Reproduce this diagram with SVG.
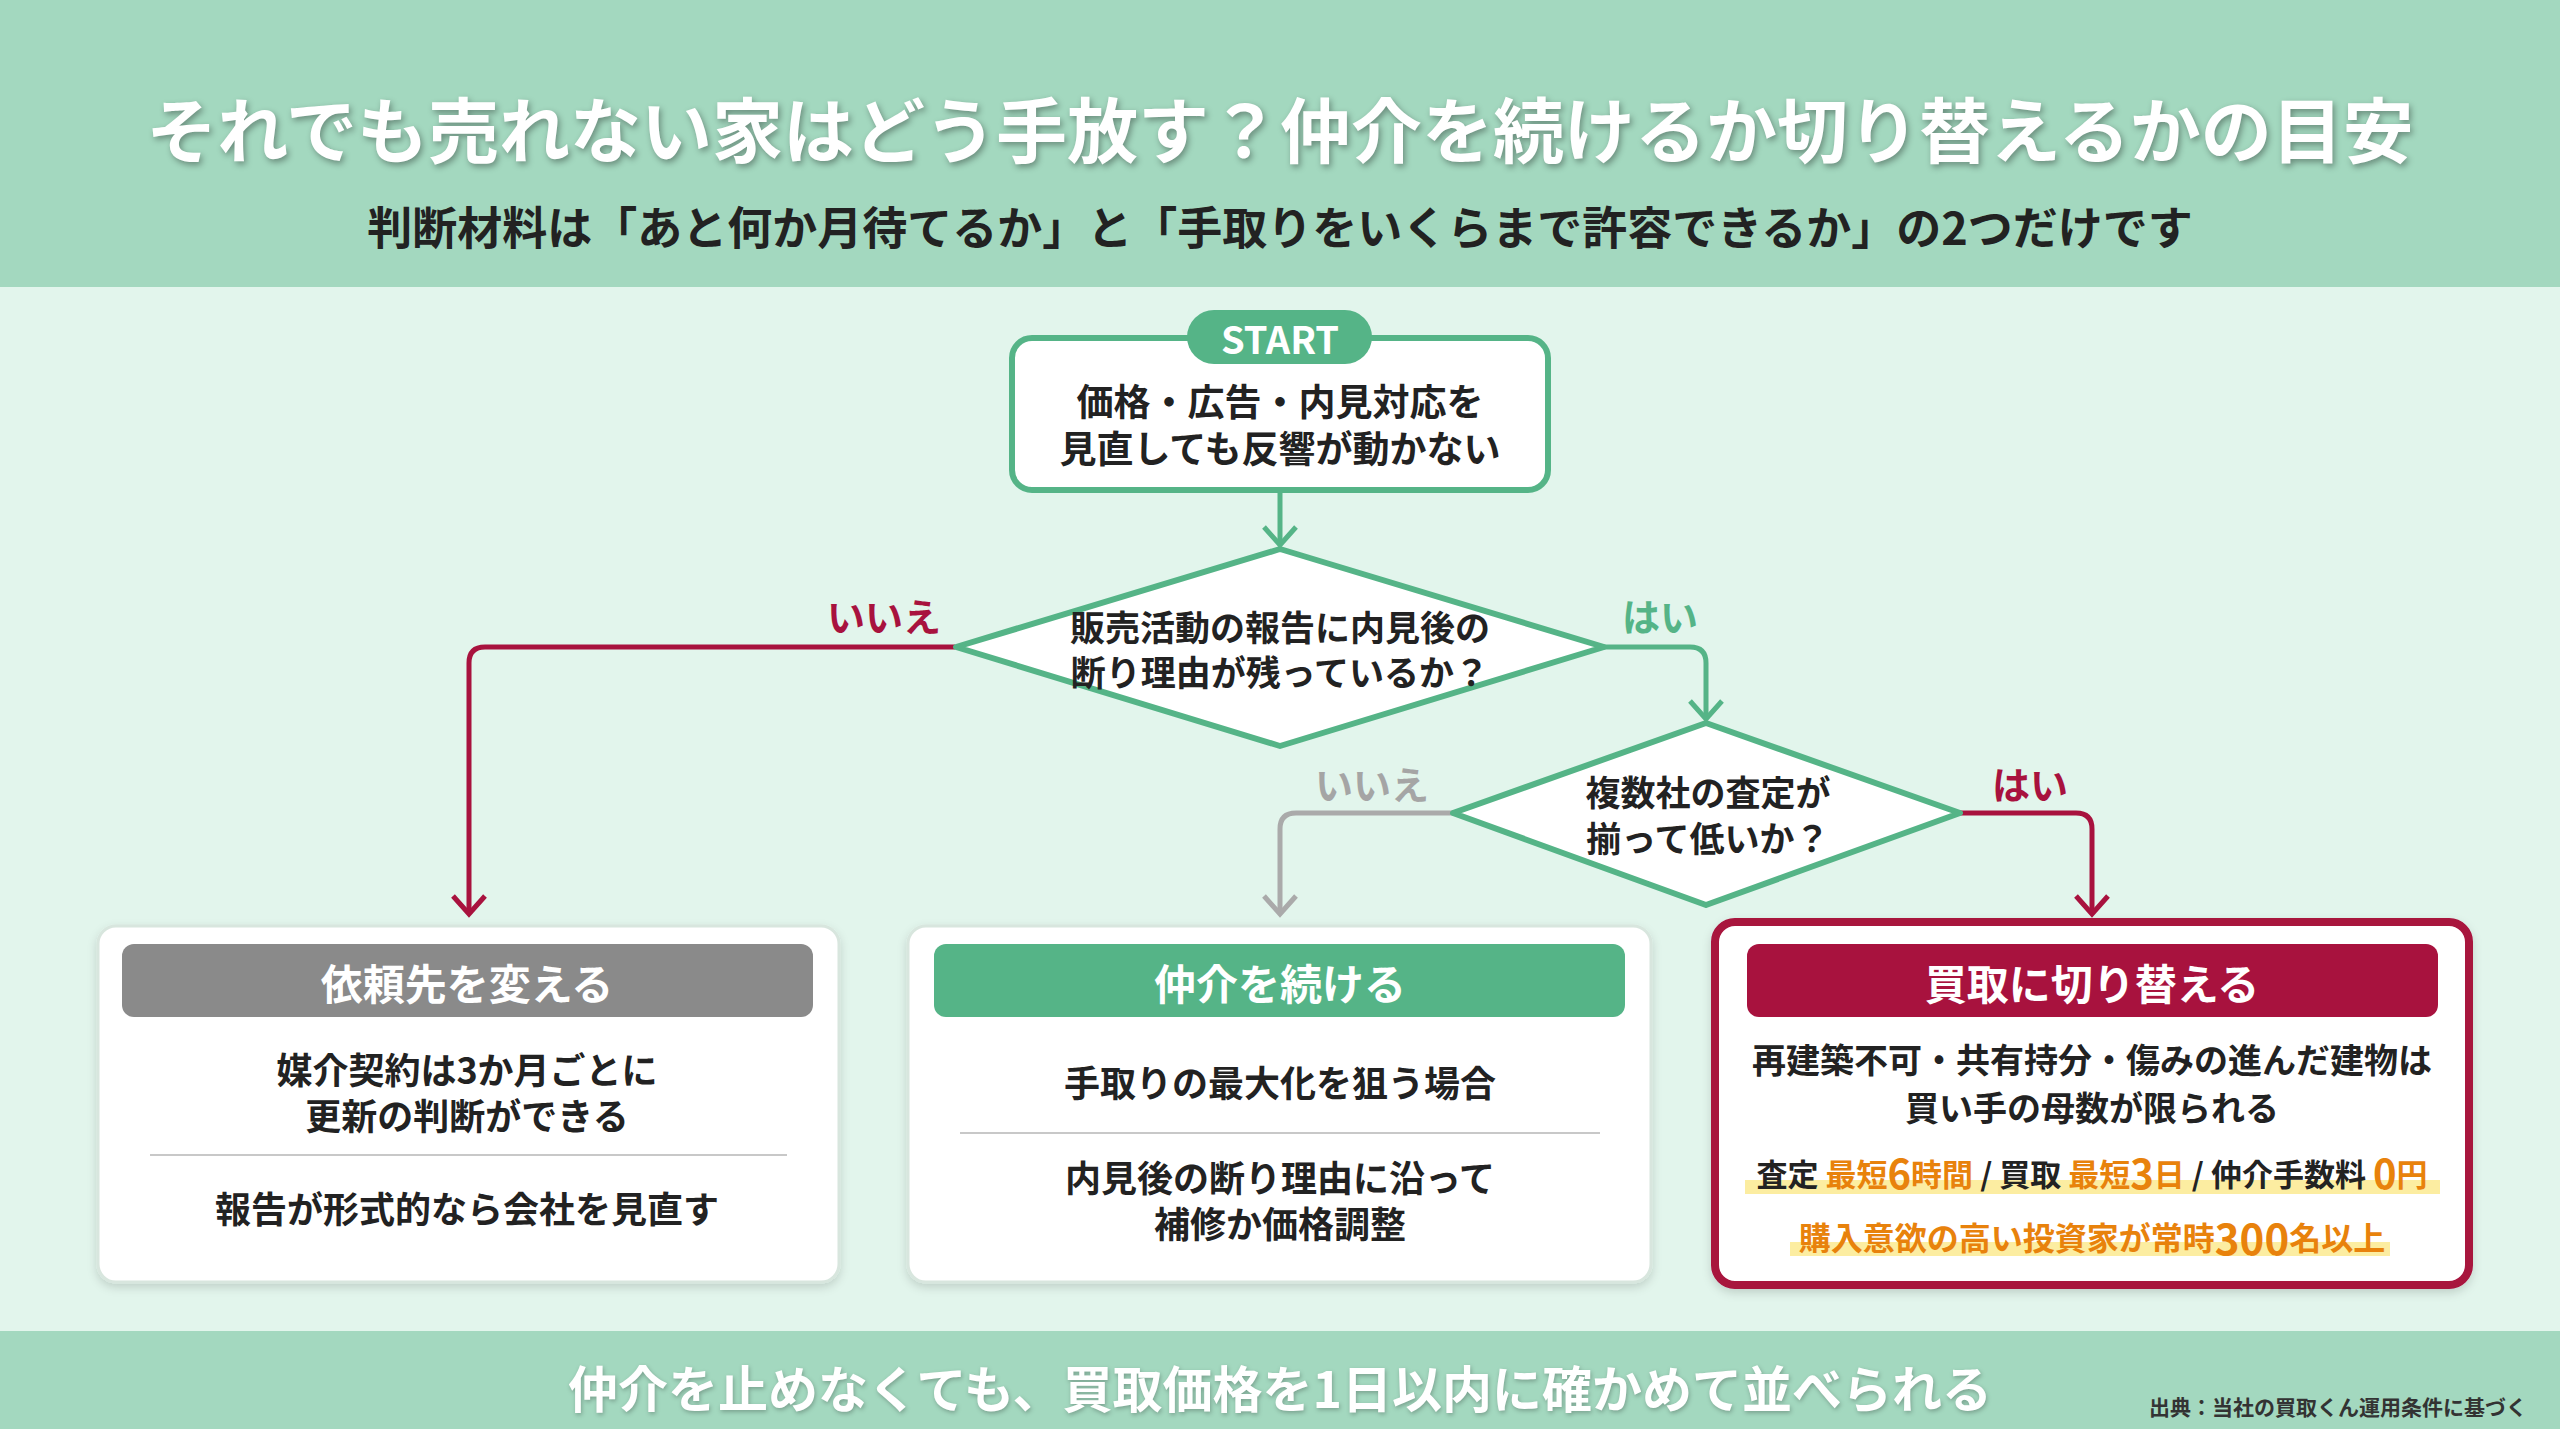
<svg xmlns="http://www.w3.org/2000/svg" width="2560" height="1429" viewBox="0 0 2560 1429">
<defs>
<style>
text{font-family:"Noto Sans CJK JP","Noto Sans",sans-serif;font-weight:700;text-anchor:middle;dominant-baseline:central}
.b{fill:#222}
.card{fill:#fff;stroke:#d8e6de;stroke-width:3}
.hdr{font-size:42px;fill:#fff}
.ct{font-size:36px;fill:#222}
.g{stroke:#55b487;stroke-width:5;fill:none}
.r{stroke:#a8123e;stroke-width:5;fill:none}
.k{stroke:#aaaaaa;stroke-width:5;fill:none}
.hl{fill:#fbe98a;opacity:0.8}
.o{fill:#e8820c}
</style>
<filter id="sh" x="-5%" y="-5%" width="110%" height="120%"><feDropShadow dx="0" dy="4" stdDeviation="5" flood-color="#000" flood-opacity="0.15"/></filter>
</defs>
<rect width="2560" height="1429" fill="#e2f5ec"/>
<rect width="2560" height="287" fill="#a3d8bf"/>
<text x="1280" y="126" font-size="71" fill="#fff" style="filter:drop-shadow(2px 3px 3px rgba(0,0,0,0.35))">それでも売れない家はどう手放す？仲介を続けるか切り替えるかの目安</text>
<text x="1280" y="225" font-size="45" class="b">判断材料は「あと何か月待てるか」と「手取りをいくらまで許容できるか」の2つだけです</text>

<g id="connectors">
<path class="g" d="M1280 492 V545"/><path class="g" d="M1264 527 L1280 545 L1296 527"/>
<path class="g" d="M1604 647 H1690 Q1706 647 1706 663 V719"/><path class="g" d="M1690 701 L1706 719 L1722 701"/>
<path class="r" d="M955 647 H485 Q469 647 469 663 V914"/><path class="r" d="M453 896 L469 914 L485 896"/>
<path class="k" d="M1453 813 H1296 Q1280 813 1280 829 V914"/><path class="k" d="M1264 896 L1280 914 L1296 896"/>
<path class="r" d="M1960 813 H2076 Q2092 813 2092 829 V914"/><path class="r" d="M2076 896 L2092 914 L2108 896"/>
<text x="884" y="614" font-size="38" fill="#a8123e">いいえ</text>
<text x="1660" y="614" font-size="38" fill="#55b487">はい</text>
<text x="1372" y="782" font-size="38" fill="#a5a5a5">いいえ</text>
<text x="2030" y="782" font-size="38" fill="#a8123e">はい</text>
</g>

<g id="start">
<rect x="1012" y="338" width="536" height="152" rx="20" fill="#fff" stroke="#55b487" stroke-width="6"/>
<rect x="1187" y="310" width="185" height="54" rx="27" fill="#55b487"/>
<text x="1280" y="337" font-size="38" fill="#fff">START</text>
<text x="1280" y="400" font-size="37" class="b">価格・広告・内見対応を</text>
<text x="1280" y="447" font-size="37" class="b">見直しても反響が動かない</text>
</g>

<g id="d1">
<path d="M1280 549 L1604 647 L1280 746 L956 647 Z" fill="#fff" stroke="#55b487" stroke-width="6" stroke-linejoin="round"/>
<text x="1280" y="625" font-size="35" class="b">販売活動の報告に内見後の</text>
<text x="1280" y="670" font-size="35" class="b">断り理由が残っているか？</text>
</g>

<g id="d2">
<path d="M1706 723 L1960 813 L1706 905 L1453 813 Z" fill="#fff" stroke="#55b487" stroke-width="6" stroke-linejoin="round"/>
<text x="1708" y="790" font-size="35" class="b">複数社の査定が</text>
<text x="1708" y="836" font-size="35" class="b">揃って低いか？</text>
</g>

<g id="c1">
<rect class="card" x="98" y="926" width="741" height="356" rx="18" filter="url(#sh)"/>
<rect x="122" y="944" width="691" height="73" rx="12" fill="#8a8a8a"/>
<text x="467" y="981" class="hdr">依頼先を変える</text>
<text x="467" y="1068" class="ct">媒介契約は3か月ごとに</text>
<text x="467" y="1114" class="ct">更新の判断ができる</text>
<line x1="150" y1="1155" x2="787" y2="1155" stroke="#c8c8c8" stroke-width="2"/>
<text x="467" y="1207" class="ct">報告が形式的なら会社を見直す</text>
</g>

<g id="c2">
<rect class="card" x="908" y="926" width="743" height="356" rx="18" filter="url(#sh)"/>
<rect x="934" y="944" width="691" height="73" rx="12" fill="#55b487"/>
<text x="1280" y="981" class="hdr">仲介を続ける</text>
<text x="1280" y="1081" class="ct">手取りの最大化を狙う場合</text>
<line x1="960" y1="1133" x2="1600" y2="1133" stroke="#c8c8c8" stroke-width="2"/>
<text x="1280" y="1176" class="ct">内見後の断り理由に沿って</text>
<text x="1280" y="1222" class="ct">補修か価格調整</text>
</g>

<g id="c3">
<rect x="1715" y="922" width="754" height="363" rx="20" fill="#fff" stroke="#a8123e" stroke-width="8" filter="url(#sh)"/>
<rect x="1747" y="944" width="691" height="73" rx="12" fill="#a8123e"/>
<text x="2092" y="981" class="hdr">買取に切り替える</text>
<text x="2092" y="1058" font-size="34" class="b">再建築不可・共有持分・傷みの進んだ建物は</text>
<text x="2092" y="1106" font-size="34" class="b">買い手の母数が限られる</text>
<rect class="hl" x="1745" y="1180" width="695" height="14"/>
<text x="2092" y="1172" font-size="31" class="b">査定 <tspan class="o">最短<tspan font-size="40">6</tspan>時間</tspan> / 買取 <tspan class="o">最短<tspan font-size="40">3</tspan>日</tspan> / 仲介手数料 <tspan class="o" font-size="40">0</tspan><tspan class="o">円</tspan></text>
<rect class="hl" x="1790" y="1242" width="600" height="14"/>
<text x="2092" y="1236" font-size="32" class="o">購入意欲の高い投資家が常時<tspan font-size="42">300</tspan>名以上</text>
</g>

<rect y="1331" width="2560" height="98" fill="#a3d8bf"/>
<text x="1280" y="1386" font-size="50" fill="#fff" style="filter:drop-shadow(1px 2px 2px rgba(0,0,0,0.25))">仲介を止めなくても、買取価格を1日以内に確かめて並べられる</text>
<text x="2338" y="1406" font-size="21" fill="#333" font-weight="400">出典：当社の買取くん運用条件に基づく</text>
</svg>
